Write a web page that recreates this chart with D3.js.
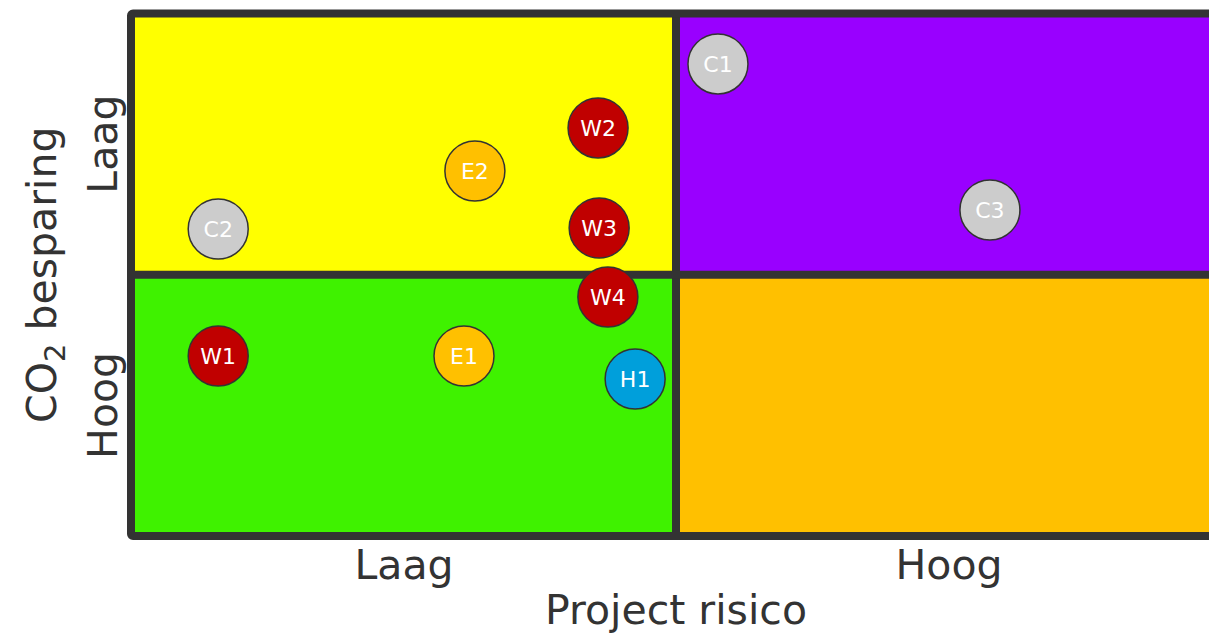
<!DOCTYPE html>
<html>
<head>
<meta charset="utf-8">
<script src="https://cdn.jsdelivr.net/npm/d3@7"></script>
<style>
  body { margin: 0; background: #fff; }
  svg { display: block; }
  text { font-family: "DejaVu Sans", Verdana, sans-serif; }
</style>
</head>
<body>
<svg id="chart" width="1209" height="636"></svg>
<script>
// projects: label, x = project risico, y = CO2 besparing (top = laag)
var labels = ['C1', 'C3', 'W2', 'E2', 'C2', 'W3', 'W4', 'W1', 'E1', 'H1'];
var xValues = [1.077, 1.576, 0.857, 0.631, 0.160, 0.859, 0.875, 0.160, 0.611, 0.925];
var yValues = [1.807, 1.248, 1.562, 1.397, 1.175, 1.179, 0.915, 0.689, 0.689, 0.601];

// quadrants: column (risico), row (besparing)
var quadCols = [0, 1, 0, 1];
var quadRows = [1, 1, 0, 0];
var quadColors = ['#ffff00', '#9900ff', '#3ff200', '#ffc000'];

var xTicks = ['Laag', 'Hoog'];
var yTicks = ['Hoog', 'Laag'];

var groupColor = { C: '#cccccc', W: '#c00000', E: '#ffc000', H: '#009fdb' };

var svg = d3.select('#chart');
var x = d3.scaleLinear().domain([0, 2]).range([131, 1221]);
var y = d3.scaleLinear().domain([0, 2]).range([536, 13.5]);
var frame = '#333333';

svg.append('g').attr('class', 'quadrants')
  .selectAll('rect')
  .data(quadColors)
  .enter()
  .append('rect')
  .attr('x', function(d, i) { return x(quadCols[i]); })
  .attr('y', function(d, i) { return y(quadRows[i] + 1); })
  .attr('width', function(d, i) { return x(quadCols[i] + 1) - x(quadCols[i]); })
  .attr('height', function(d, i) { return y(quadRows[i]) - y(quadRows[i] + 1); })
  .attr('fill', function(d) { return d; });

// divider lines and outer frame
svg.append('line')
  .attr('x1', x(1)).attr('x2', x(1))
  .attr('y1', y(0)).attr('y2', y(2))
  .attr('stroke', frame).attr('stroke-width', 8);
svg.append('line')
  .attr('x1', x(0)).attr('x2', x(2))
  .attr('y1', y(1)).attr('y2', y(1))
  .attr('stroke', frame).attr('stroke-width', 8);
svg.append('rect')
  .attr('x', x(0)).attr('y', y(2))
  .attr('width', x(2) - x(0)).attr('height', y(0) - y(2))
  .attr('fill', 'none')
  .attr('stroke', frame).attr('stroke-width', 8)
  .attr('rx', 2);

// axis tick labels
var xAxis = d3.axisBottom(x).tickValues([0.5, 1.5])
  .tickFormat(function(d, i) { return xTicks[i]; })
  .tickSize(0).tickPadding(14);
var gx = svg.append('g').attr('transform', 'translate(0,' + y(0) + ')').call(xAxis);
gx.select('.domain').remove();
gx.selectAll('text').attr('font-size', 41).attr('fill', '#333')
  .attr('font-family', '"DejaVu Sans", Verdana, sans-serif');

svg.append('g').attr('class', 'y-ticks')
  .selectAll('text')
  .data([0.5, 1.5])
  .enter()
  .append('text')
  .attr('transform', function(d) { return 'translate(117,' + y(d) + ') rotate(-90)'; })
  .attr('text-anchor', 'middle')
  .attr('font-size', 41)
  .attr('fill', '#333')
  .text(function(d, i) { return yTicks[i]; });

// axis titles
svg.append('text')
  .attr('x', x(1)).attr('y', 624)
  .attr('text-anchor', 'middle')
  .attr('font-size', 41).attr('fill', '#333')
  .text('Project risico');

var yTitle = svg.append('text')
  .attr('transform', 'translate(56,' + y(1) + ') rotate(-90)')
  .attr('text-anchor', 'middle')
  .attr('font-size', 41).attr('fill', '#333');
yTitle.append('tspan').text('CO');
yTitle.append('tspan').attr('font-size', 29).attr('dy', 9).text('2');
yTitle.append('tspan').attr('dy', -9).text(' besparing');

// project markers
var pts = svg.append('g').attr('class', 'points')
  .selectAll('g')
  .data(labels)
  .enter()
  .append('g')
  .attr('transform', function(d, i) { return 'translate(' + x(xValues[i]) + ',' + y(yValues[i]) + ')'; });

pts.append('circle')
  .attr('r', 30)
  .attr('fill', function(d) { return groupColor[d.charAt(0)]; })
  .attr('stroke', frame)
  .attr('stroke-width', 1.5);

pts.append('text')
  .attr('text-anchor', 'middle')
  .attr('dy', '0.36em')
  .attr('font-size', 22)
  .attr('fill', '#fff')
  .text(function(d) { return d; });
</script>
</body>
</html>
